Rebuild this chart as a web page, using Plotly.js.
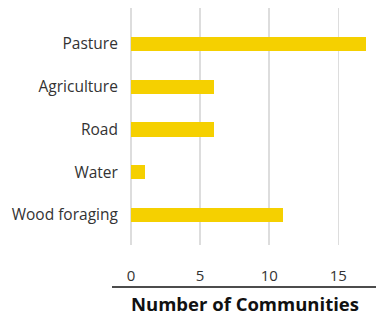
<!DOCTYPE html>
<html>
<head>
<meta charset="utf-8">
<script src="https://cdn.plot.ly/plotly-3.0.1.min.js"></script>
<style>html,body{margin:0;padding:0;background:#fff;}#chart{width:376px;height:316px;}</style>
</head>
<body>
<div id="chart"></div>
<script>
const categories = ["Pasture", "Agriculture", "Road", "Water", "Wood foraging"];
const communities = [17, 6, 6, 1, 11];
const xTicks = [0, 5, 10, 15];

const trace = {
  type: "bar",
  orientation: "h",
  y: categories,
  x: communities,
  width: 0.33,
  marker: {color: "#F5D000"},
  hoverinfo: "x+y"
};

const layout = {
  width: 376,
  height: 316,
  margin: {l: 131, r: 10, t: 8, b: 71},
  paper_bgcolor: "#fff",
  plot_bgcolor: "#fff",
  font: {family: "'Open Sans', Lato, sans-serif", color: "#333", size: 14},
  showlegend: false,
  bargap: 0,
  xaxis: {
    range: [0, 17],
    tickvals: xTicks,
    ticktext: xTicks.map(String),
    showgrid: true,
    gridcolor: "#dddddd",
    gridwidth: 1.5,
    zeroline: true,
    zerolinecolor: "#dddddd",
    zerolinewidth: 1.5,
    showline: false,
    ticks: "outside",
    ticklen: 17,
    tickcolor: "rgba(0,0,0,0)",
    tickfont: {size: 15, color: "#333"}
  },
  yaxis: {
    type: "category",
    categoryorder: "array",
    categoryarray: categories,
    range: [4.7, -0.84],
    showgrid: false,
    zeroline: false,
    showline: false,
    ticks: "outside",
    ticklen: 9,
    tickcolor: "rgba(0,0,0,0)",
    tickfont: {size: 15.5, color: "#333"}
  },
  shapes: [{
    type: "line", xref: "paper", yref: "paper",
    x0: -0.081, x1: 1.05, y0: -0.177, y1: -0.177,
    line: {color: "#111", width: 1.5}
  }],
  annotations: [{
    text: "<b>Number of Communities</b>",
    xref: "paper", yref: "paper",
    x: 0.485, y: -0.245,
    xanchor: "center", yanchor: "middle",
    showarrow: false,
    font: {size: 18.5, color: "#111"}
  }]
};

Plotly.newPlot("chart", [trace], layout, {displayModeBar: false, staticPlot: true});
</script>
</body>
</html>
